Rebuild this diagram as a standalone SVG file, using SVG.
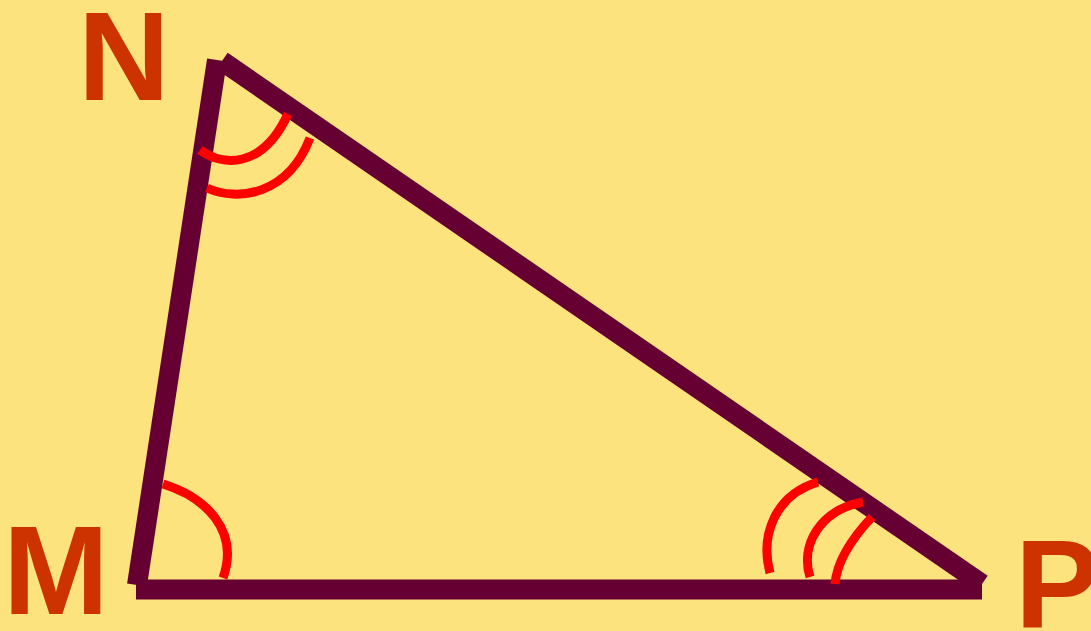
<svg xmlns="http://www.w3.org/2000/svg" width="1091" height="631" viewBox="0 0 1091 631">
<style>
.side{stroke:#660033;stroke-width:20;fill:none;stroke-linecap:butt}
.arc{stroke:#FF0000;stroke-width:9;fill:none;stroke-linecap:butt}
.lbl{font-family:"Liberation Sans",Arial,sans-serif;font-weight:bold;font-size:127px;fill:#CC3300}
</style>
<rect width="1091" height="631" fill="#FCE37D"/>
<g id="connectors">
<line class="side" x1="137" y1="585" x2="217" y2="60"/>
<line class="side" x1="222" y1="61" x2="982" y2="584"/>
<line class="side" x1="136" y1="589.5" x2="982" y2="589.5"/>
</g>
<g id="angle-M"><path class="arc" d="M163,484 C205,497 240,530 223,578"/></g>
<g id="angle-N">
<path class="arc" d="M200,150 C222,166 262,170 288,114"/>
<path class="arc" d="M207,188 C238,202 288,195 310,138"/>
</g>
<g id="angle-P">
<path class="arc" d="M818,482 C775,495 760,535 770,573"/>
<path class="arc" d="M863,502 C820,510 800,545 810,577"/>
<path class="arc" d="M872,517 C855,535 837,560 835,584"/>
</g>
<g id="label-N"><text class="lbl" x="78" y="100">N</text></g>
<g id="label-M"><text class="lbl" x="3" y="614">M</text></g>
<g id="label-P"><text class="lbl" x="1015" y="628">P</text></g>
</svg>
